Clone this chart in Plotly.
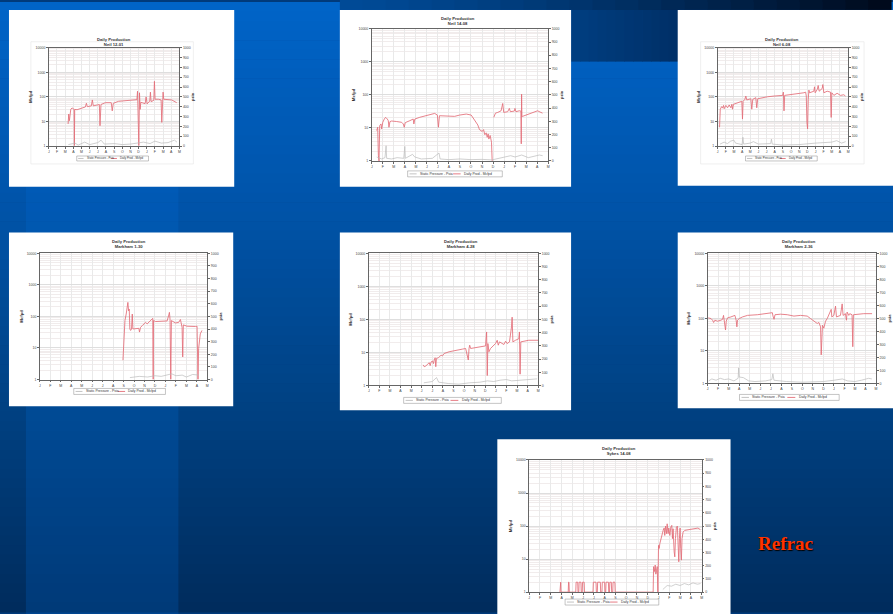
import plotly.graph_objects as go

W, H = 893, 614

# ---------------- data ----------------
MONTH_TICKS = list(range(17))
MONTH_LABELS = ["J", "F", "M", "A", "M", "J", "J", "A", "S", "O", "N", "D", "J", "F", "M", "A", "M"]
RATE_TICKS = [1, 10, 100, 1000, 10000]
RATE_TICK_TEXT = ["1", "10", "100", "1000", "10000"]
PSIA_TICKS = list(range(0, 1001, 100))
WELL_NAMES = ["Neil 12-01", "Neil 14-08", "Neil 6-08", "Markham 1-30",
              "Markham 4-28", "Markham 2-36", "Sykes 14-08"]
SERIES_NAMES = ["Static Pressure - Psia", "Daily Prod - Mcfpd"]

# (month, Mcfpd) pairs
C1_RATE = [(2.36, 7.9), (2.44, 20), (2.52, 10.7), (2.60, 27), (2.69, 31.5), (2.85, 35.5), (3.01, 30), (3.09, 31),
           (3.13, 1.05), (3.17, 31), (3.46, 30), (3.87, 33), (4.48, 39), (4.60, 55), (4.72, 40), (5.21, 43),
           (5.33, 75), (5.45, 43), (5.90, 47), (6.19, 49), (6.27, 6.7), (6.39, 49), (6.92, 58), (7.65, 58),
           (7.77, 27), (7.90, 55), (8.55, 66), (9.36, 70), (10.79, 77), (10.87, 170), (10.95, 17), (11.03, 1.05),
           (11.11, 147), (11.19, 31), (11.27, 60), (11.80, 53), (11.92, 100), (12.05, 52), (12.37, 68),
           (12.45, 156), (12.53, 64), (12.86, 72), (12.94, 430), (13.02, 80), (13.43, 80), (13.76, 75),
           (13.84, 9.2), (13.92, 75), (14.00, 156), (14.08, 80), (15.06, 75), (15.67, 58)]
C1_PSIA = [(2.4, 15), (3.2, 30), (3.6, 10), (4.4, 40), (5.0, 15), (6.0, 35), (6.4, 60), (6.8, 20), (8.0, 25),
           (9.0, 15), (10.0, 20), (11.0, 30), (11.6, 40), (12.4, 25), (13.0, 50), (13.8, 30), (14.6, 35),
           (15.4, 60), (15.7, 40)]

C2_RATE = [(0.45, 8.3), (0.54, 10.5), (0.60, 1.5), (0.66, 1.0), (0.72, 11.7), (0.84, 13.2), (0.90, 9.3),
           (1.00, 14.8), (1.14, 18.6), (1.26, 20.9), (1.41, 18.6), (1.50, 16.6), (1.56, 10.5), (1.65, 15.5),
           (1.80, 16.2), (1.95, 15.8), (2.26, 15.6), (2.71, 14.8), (2.86, 13.2), (2.95, 10.5), (3.04, 14.5),
           (3.46, 16.6), (3.76, 18.6), (3.82, 13.2), (3.91, 18.6), (4.36, 21), (4.96, 23.4), (5.71, 27.5),
           (5.95, 24.5), (6.05, 10.5), (6.14, 23.4), (6.77, 22.4), (7.52, 22.4), (7.97, 24.5), (8.57, 26.3),
           (9.02, 24.5), (9.32, 16.6), (9.62, 12.3), (9.77, 8.9), (10.02, 7.8), (10.14, 8.9), (10.26, 6.2),
           (10.38, 7.1), (10.47, 5.2), (10.56, 6.6), (10.62, 4.6), (10.74, 5.9), (10.86, 3.7), (10.92, 1.05),
           (10.95, 1.0), (11.0, None), (11.07, 20.9), (11.16, 24.5), (11.22, 28), (11.43, 29.5), (11.73, 33),
           (11.88, 55), (11.97, 29.5), (12.33, 31), (12.48, 39), (12.57, 31), (12.93, 32.4), (12.99, 39),
           (13.08, 31), (13.38, 33), (13.53, 32.4), (13.56, 3.3), (13.59, 105), (13.62, 22), (13.68, 22.4),
           (13.98, 24.5), (14.44, 28), (14.74, 29.5), (15.04, 33), (15.34, 29.5), (15.49, 28)]
C2_PSIA = [(0.45, 30), (0.9, 15), (1.2, 25), (1.3, 115), (1.35, 20), (1.8, 15), (2.3, 25), (2.9, 20), (3.0, 110),
           (3.05, 20), (3.7, 50), (3.9, 30), (4.5, 15), (5.5, 20), (6.1, 60), (6.2, 15), (7.0, 10), (8.0, 15),
           (9.0, 10), (10.0, 12), (10.9, 8), (11.5, 20), (12.0, 25), (12.6, 40), (13.0, 30), (13.6, 45),
           (14.2, 25), (14.8, 35), (15.2, 45), (15.5, 40)]

C3_RATE = [(0.24, 5.8), (0.33, 31.5), (0.49, 40), (0.61, 35), (0.73, 45), (0.81, 33), (1.02, 45), (1.22, 36),
           (1.42, 47), (1.63, 36), (1.75, 50), (1.83, 31.5), (1.95, 50), (2.24, 55), (2.44, 58), (2.97, 66),
           (3.05, 12.5), (3.13, 66), (3.34, 79), (3.46, 108), (3.58, 75), (3.87, 79), (4.07, 84), (4.19, 31.5),
           (4.31, 79), (4.68, 93), (4.80, 36), (4.92, 84), (5.49, 93), (6.11, 101), (6.92, 108), (7.73, 115),
           (7.98, 115), (8.06, 156), (8.14, 27), (8.22, 115), (8.95, 122), (9.77, 130), (10.58, 147),
           (10.79, 156), (10.87, 108), (10.95, 9.2), (11.03, 5), (11.11, 79), (11.19, 189), (11.27, 147),
           (11.60, 156), (11.80, 170), (11.88, 257), (11.96, 147), (12.21, 200), (12.33, 290), (12.45, 170),
           (12.82, 220), (12.90, 317), (13.02, 147), (13.43, 170), (13.84, 156), (13.92, 14.6), (14.00, 147),
           (14.25, 115), (14.65, 140), (15.06, 115), (15.47, 122), (15.67, 108)]
C3_PSIA = [(0.3, 20), (0.8, 40), (1.2, 25), (1.6, 50), (2.0, 60), (2.2, 30), (3.0, 15), (3.1, 90), (3.2, 20),
           (4.0, 30), (4.4, 45), (5.0, 20), (6.5, 25), (6.6, 70), (6.7, 20), (8.0, 10), (10.0, 15), (11.0, 25),
           (12.0, 30), (13.0, 35), (14.0, 40), (14.6, 55), (15.2, 30), (15.7, 45)]

C4_RATE = [(7.94, 4.1), (8.03, 25), (8.13, 74), (8.25, 119), (8.35, 194), (8.41, 279), (8.48, 150), (8.54, 170),
           (8.60, 40), (8.67, 36), (8.76, 40), (8.83, 119), (8.89, 40), (9.14, 40), (9.46, 42), (9.52, 32),
           (9.62, 45), (9.78, 51), (9.94, 58), (10.10, 65), (10.25, 58), (10.57, 74), (10.73, 84), (10.79, 87),
           (10.83, 1.0), (10.86, 74), (11.05, 69), (11.68, 69), (12.16, 72), (12.32, 111), (12.38, 135),
           (12.44, 80), (12.51, 1.0), (12.57, 74), (12.95, 62), (13.27, 65), (13.43, 80), (13.59, 45),
           (13.65, 5.2), (13.71, 54), (14.06, 49), (14.86, 48), (15.02, 49), (15.11, 1.0), (15.17, 9.5),
           (15.33, 28), (15.49, 36)]
C4_PSIA = [(8.6, 15), (9.5, 25), (10.3, 20), (11.0, 30), (11.6, 25), (12.2, 40), (12.6, 45), (13.0, 30),
           (13.6, 35), (14.0, 20), (14.6, 40), (15.2, 35)]

C5_RATE = [(5.14, 4.2), (5.24, 3.7), (5.39, 3.9), (5.55, 4.4), (5.71, 4.9), (5.80, 4.0), (5.89, 5.2), (6.02, 5.5),
           (6.11, 4.6), (6.18, 5.9), (6.27, 6.9), (6.33, 3.7), (6.39, 6.6), (6.58, 6.9), (6.71, 7.4), (6.83, 8.3),
           (6.96, 7.9), (7.12, 9.3), (7.59, 10.5), (8.21, 11.2), (8.84, 12.6), (9.15, 13.2), (9.25, 10),
           (9.34, 8.3), (9.40, 5.9), (9.47, 13.2), (9.53, 16.6), (9.62, 13.2), (10.09, 13.8), (10.56, 14.8),
           (11.03, 15.8), (11.13, 41.7), (11.19, 2.0), (11.25, 18.6), (11.35, 10.5), (11.50, 13.2),
           (11.66, 14.8), (11.97, 18.6), (12.13, 23.4), (12.23, 16.6), (12.35, 20.9), (12.76, 17.4),
           (12.92, 21.9), (13.07, 18.6), (13.29, 20.9), (13.39, 33), (13.48, 59.6), (13.54, 117),
           (13.61, 20.9), (13.86, 23.4), (14.17, 26), (14.23, 41.7), (14.29, 2.2), (14.36, 20.9),
           (14.64, 21.9), (15.11, 23.4), (15.99, 23.4)]
C5_PSIA = [(5.2, 20), (6.0, 30), (6.4, 60), (6.6, 25), (7.5, 15), (8.5, 10), (9.5, 20), (10.5, 25), (11.2, 35),
           (11.8, 30), (12.4, 40), (13.0, 45), (13.5, 35), (14.2, 40), (15.0, 45), (15.9, 50)]

C6_RATE = [(0.06, 104), (0.32, 99), (0.47, 88), (0.57, 75), (0.69, 88), (0.95, 82), (1.26, 88), (1.42, 94),
           (1.51, 124), (1.58, 70), (1.64, 55), (1.70, 44), (1.77, 82), (1.89, 104), (2.21, 111), (2.46, 118),
           (2.59, 124), (2.71, 88), (2.78, 55), (2.84, 88), (3.00, 99), (3.31, 111), (3.79, 124), (4.73, 130),
           (5.68, 140), (6.15, 150), (6.21, 118), (6.31, 94), (6.40, 130), (6.94, 135), (7.57, 130),
           (7.89, 124), (8.20, 118), (8.83, 124), (9.46, 118), (9.78, 99), (10.09, 82), (10.41, 70),
           (10.57, 75), (10.73, 55), (10.79, 7.6), (10.85, 50), (10.91, 62), (11.04, 50), (11.20, 82),
           (11.36, 99), (11.51, 124), (11.67, 157), (11.74, 190), (11.80, 111), (11.99, 124), (12.15, 240),
           (12.24, 111), (12.62, 124), (12.78, 280), (12.87, 124), (13.09, 140), (13.19, 88), (13.25, 157),
           (13.41, 124), (13.50, 140), (13.72, 130), (13.79, 13.5), (13.85, 130), (14.20, 135), (14.83, 140),
           (15.62, 140)]
C6_PSIA = [(0.1, 20), (0.4, 35), (0.8, 25), (1.2, 40), (1.6, 30), (2.0, 35), (2.5, 20), (2.9, 40), (2.95, 120),
           (3.0, 50), (3.4, 45), (3.9, 20), (4.5, 15), (5.5, 20), (6.1, 30), (6.2, 75), (6.3, 25), (7.5, 15),
           (9.0, 10), (10.0, 12), (11.0, 15), (12.0, 25), (12.8, 35), (13.3, 20), (14.0, 15), (14.6, 25),
           (15.3, 40), (15.6, 35)]

C7_RATE = [(2.85, 1), (2.88, 2), (2.92, 2), (2.95, 1), (3.62, 1), (3.65, 2), (3.69, 2), (3.72, 1),
           (4.32, 1), (4.35, 2), (4.50, 2), (4.53, 1), (4.60, 1), (4.63, 2), (4.80, 2), (4.83, 1),
           (4.92, 1), (4.95, 2), (5.10, 2), (5.13, 1), (5.92, 1), (5.95, 2), (6.20, 2), (6.23, 1),
           (6.32, 1), (6.35, 2), (6.60, 2), (6.63, 1), (6.75, 1), (6.78, 2), (7.00, 2), (7.03, 1),
           (7.10, 1), (7.13, 2), (7.35, 2), (7.38, 1), (7.45, 1), (7.48, 2), (7.62, 2), (7.65, 1),
           (7.75, 1), (7.78, 2), (7.95, 2), (7.98, 1), (11.50, 1), (11.54, 5.9), (11.63, 4.2), (11.69, 6.6),
           (11.75, 3.5), (11.82, 4.6), (11.88, 5.9), (11.94, 1), (12.00, 26), (12.06, 21), (12.12, 29.5),
           (12.22, 41.7), (12.28, 52), (12.37, 59), (12.43, 74), (12.52, 87), (12.58, 52), (12.65, 100),
           (12.74, 59), (12.80, 117), (12.89, 59), (12.95, 87), (13.05, 52), (13.14, 93), (13.23, 105),
           (13.29, 41.7), (13.35, 83), (13.45, 16.6), (13.51, 11.7), (13.57, 41.7), (13.66, 93), (13.75, 100),
           (13.82, 16.6), (13.88, 8.3), (13.94, 41.7), (14.00, 87), (14.06, 21), (14.12, 9.3), (14.18, 41.7),
           (14.28, 66), (14.43, 74), (14.89, 78), (15.35, 83), (15.66, 87), (15.88, 78)]
C7_PSIA = [(12.4, 20), (12.8, 50), (13.2, 45), (13.6, 60), (14.0, 50), (14.4, 65), (14.8, 55), (15.2, 70),
           (15.6, 60), (15.9, 65)]

RATES = [C1_RATE, C2_RATE, C3_RATE, C4_RATE, C5_RATE, C6_RATE, C7_RATE]
PSIAS = [C1_PSIA, C2_PSIA, C3_PSIA, C4_PSIA, C5_PSIA, C6_PSIA, C7_PSIA]

# ---------------- layout geometry (pixels) ----------------
CHART_BOX = [(48, 46, 179, 145), (372, 27, 549, 160), (719, 46, 850, 145),
             (39, 253, 207, 380), (369, 253, 539, 386), (709, 253, 878, 384), (530, 461, 703, 594)]
PANEL_BOX = [(8, 8, 234, 186), (340, 8, 572, 186), (679, 8, 900, 185),
             (8, 232, 233, 407), (340, 232, 572, 411), (679, 232, 900, 409), (498, 440, 732, 620)]
FRAME_BOX = [(30, 40, 193, 163), None, (702, 40, 866, 163), None, None, None, None]
TITLE_POS = [(113, 33), (459, 12), (784, 33), (128, 237), (462, 237), (801, 237), (620, 445)]
LEGEND_BOX = [(76, 155, 148, 160), (408, 170, 503, 176), (747, 155, 819, 160), (73, 389, 165, 395),
              (404, 398, 502, 404), (741, 395, 841, 401), (566, 601, 660, 607)]
SERIES_COLORS = ["#bcbcbc", "#e36d77"]
MINOR_RATE = [m * 10 ** d for d in range(4) for m in range(2, 10)]


def px(x):
    return x / W


def py(y):
    return 1 - y / H


def hexmix(c1, c2, t):
    return "rgb(%d,%d,%d)" % tuple(round(a + (b - a) * t) for a, b in zip(c1, c2))


def vgrad(y):
    stops = [(0, (0, 100, 200)), (200, (0, 84, 170)), (420, (0, 64, 128)), (614, (0, 44, 92))]
    for (ya, ca), (yb, cb) in zip(stops, stops[1:]):
        if ya <= y <= yb:
            return hexmix(ca, cb, (y - ya) / (yb - ya))
    return hexmix(stops[-1][1], stops[-1][1], 0)


shapes = []
annotations = []
N = 64
for k in range(N):
    ya, yb = k * H / N, (k + 1) * H / N
    shapes.append(dict(type="rect", xref="paper", yref="paper", x0=-0.01, x1=1.01, y0=py(yb + 0.6), y1=py(ya),
                       fillcolor=vgrad((ya + yb) / 2), line=dict(width=0), layer="below"))
# lighter vertical band on the left
shapes.append(dict(type="rect", xref="paper", yref="paper", x0=px(25), x1=px(178), y0=-0.01, y1=py(186),
                   fillcolor="rgba(0,110,220,0.22)", line=dict(width=0), layer="below"))
# dark block at the top right
M = 12
for k in range(M):
    xa, xb = 572 + k * (679 - 572) / M, 572 + (k + 1) * (679 - 572) / M
    shapes.append(dict(type="rect", xref="paper", yref="paper", x0=px(xa), x1=px(xb + 0.6), y0=py(60), y1=1,
                       fillcolor=hexmix((0, 62, 128), (0, 48, 104), k / (M - 1)), line=dict(width=0),
                       layer="below"))
M = 24
for k in range(M):
    xa, xb = 340 + k * (893 - 340) / M, 340 + (k + 1) * (893 - 340) / M
    shapes.append(dict(type="rect", xref="paper", yref="paper", x0=px(xa), x1=px(xb + 0.6), y0=py(8), y1=1.01,
                       fillcolor=hexmix((0, 74, 150), (0, 10, 28), (k / (M - 1)) ** 1.3), line=dict(width=0),
                       layer="below"))
# white chart panels
for i, (x0, y0, x1, y1) in enumerate(PANEL_BOX):
    shapes.append(dict(type="rect", xref="paper", yref="paper", x0=px(x0), x1=px(x1), y0=py(y1), y1=py(y0),
                       fillcolor="white", line=dict(width=0), layer="below"))
    if FRAME_BOX[i]:
        fx0, fy0, fx1, fy1 = FRAME_BOX[i]
        shapes.append(dict(type="rect", xref="paper", yref="paper", x0=px(fx0), x1=px(fx1), y0=py(fy1),
                           y1=py(fy0), fillcolor="rgba(0,0,0,0)", line=dict(width=0.6, color="#e4e4e4"),
                           layer="below"))

fig = go.Figure()
layout = dict(width=W, height=H, margin=dict(l=0, r=0, t=0, b=0), paper_bgcolor="#003a7a",
              plot_bgcolor="rgba(0,0,0,0)", showlegend=False)

TICKFONT = dict(size=3.5, color="#444", family="Liberation Sans")
for i in range(7):
    n = i + 1
    xa = "xaxis" if n == 1 else f"xaxis{n}"
    xr = "x" if n == 1 else f"x{n}"
    yl, yr = 2 * n - 1, 2 * n
    yla = "yaxis" if yl == 1 else f"yaxis{yl}"
    ylr = "y" if yl == 1 else f"y{yl}"
    yra, yrr = f"yaxis{yr}", f"y{yr}"
    x0, y0, x1, y1 = CHART_BOX[i]
    dx, dy = [px(x0), px(x1)], [py(y1), py(y0)]
    layout[xa] = dict(domain=dx, anchor=ylr, range=[0, 16], tickmode="array", tickvals=MONTH_TICKS,
                      ticktext=MONTH_LABELS, tickfont=TICKFONT, showgrid=True, gridcolor="#e9e9e9",
                      gridwidth=0.5, showline=True, linecolor="#666", linewidth=0.6,
                      mirror=True, ticks="outside", ticklen=2, tickwidth=0.5, tickcolor="#666",
                      zeroline=False, fixedrange=True)
    layout[yla] = dict(domain=dy, anchor=xr, type="log", range=[0, 4], tickmode="array", tickvals=RATE_TICKS,
                       ticktext=RATE_TICK_TEXT, tickfont=TICKFONT, showgrid=True, gridcolor="#dedede",
                       gridwidth=0.5, showline=True, linecolor="#666", linewidth=0.6, ticks="outside",
                       ticklen=2, tickwidth=0.5, tickcolor="#666",
                       minor=dict(tickmode="array", tickvals=MINOR_RATE, showgrid=True, gridcolor="#f1ecec",
                                  gridwidth=0.4, ticks=""),
                       title=dict(text="<b>Mcfpd</b>", font=dict(size=4, color="#333"), standoff=3),
                       zeroline=False, fixedrange=True)
    layout[yra] = dict(domain=dy, anchor=xr, overlaying=ylr, side="right", range=[0, 1000], tickmode="array",
                       tickvals=PSIA_TICKS, tickfont=TICKFONT, showgrid=False, showline=True, linecolor="#666",
                       linewidth=0.6, ticks="outside", ticklen=2, tickwidth=0.5, tickcolor="#666",
                       title=dict(text="<b>psia</b>", font=dict(size=4, color="#333"), standoff=1),
                       zeroline=False, fixedrange=True)
    pm = [p[0] for p in PSIAS[i]]
    pv = [p[1] for p in PSIAS[i]]
    rm = [p[0] for p in RATES[i]]
    rv = [p[1] for p in RATES[i]]
    fig.add_trace(go.Scatter(x=pm, y=pv, xaxis=xr, yaxis=yrr, mode="lines",
                             line=dict(color=SERIES_COLORS[0], width=0.7), name=SERIES_NAMES[0]))
    fig.add_trace(go.Scatter(x=rm, y=rv, xaxis=xr, yaxis=ylr, mode="lines", connectgaps=False,
                             line=dict(color=SERIES_COLORS[1], width=0.85), name=SERIES_NAMES[1]))

    # small legend box under each chart
    lx0, ly0, lx1, ly1 = LEGEND_BOX[i]
    lw = lx1 - lx0
    lmid = (ly0 + ly1) / 2
    shapes.append(dict(type="rect", xref="paper", yref="paper", x0=px(lx0), x1=px(lx1), y0=py(ly1), y1=py(ly0),
                       fillcolor="white", line=dict(width=0.5, color="#8a8a8a"), layer="above"))
    for s, (f0, f1, ft) in enumerate([(0.02, 0.095, 0.11), (0.48, 0.56, 0.575)]):
        shapes.append(dict(type="line", xref="paper", yref="paper", x0=px(lx0 + f0 * lw), x1=px(lx0 + f1 * lw),
                           y0=py(lmid), y1=py(lmid), line=dict(width=0.9, color=SERIES_COLORS[s]),
                           layer="above"))
        annotations.append(dict(xref="paper", yref="paper", x=px(lx0 + ft * lw), y=py(lmid), xanchor="left",
                                yanchor="middle", showarrow=False, text=SERIES_NAMES[s],
                                font=dict(size=3.4 if lw > 80 else 2.8, color="#333",
                                          family="Liberation Sans")))
    tx, ty = TITLE_POS[i]
    annotations.append(dict(xref="paper", yref="paper", x=px(tx), y=py(ty), xanchor="center",
                            yanchor="top", showarrow=False,
                            text="<b>Daily Production<br>" + WELL_NAMES[i] + "</b>",
                            font=dict(size=4.2, color="#333", family="Liberation Sans")))

annotations.append(dict(xref="paper", yref="paper", x=px(787), y=py(545), xanchor="center",
                        yanchor="middle", showarrow=False, text="<b>Refrac</b>",
                        font=dict(size=19, color="#ff3300", family="Liberation Serif",
                                  shadow="1px 1px 1px #000000")))

layout["shapes"] = shapes
layout["annotations"] = annotations
fig.update_layout(**layout)
fig.write_html("out.html", config={"displayModeBar": False},
               post_script="document.body.style.margin='0px';document.body.style.overflow='hidden';"
                           "document.body.style.background='#002c5c';"
                           "document.documentElement.style.background='#002c5c';")
